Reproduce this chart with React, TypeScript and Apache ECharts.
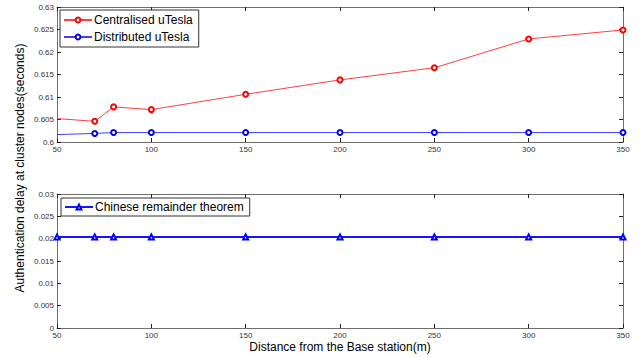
import React, { useEffect, useRef } from "react";
import * as echarts from "echarts";

const distances = [50, 70, 80, 100, 150, 200, 250, 300, 350];
const centralised = [0.6052, 0.6046, 0.6078, 0.6072, 0.6106, 0.6138, 0.6165, 0.6229, 0.6249];
const distributed = [0.60165, 0.6019, 0.6021, 0.6021, 0.6021, 0.6021, 0.6021, 0.6021, 0.6021];
const crt = [0.0204, 0.0204, 0.0204, 0.0204, 0.0204, 0.0204, 0.0204, 0.0204, 0.0204];

const FONT = "Liberation Sans, Arial, sans-serif";
const AXIS_COLOR = "#6e6e6e";

function fmt(v: number) {
  return String(+v.toFixed(4));
}

export default function App() {
  const ref = useRef<HTMLDivElement>(null);
  useEffect(() => {
    if (!ref.current) return;
    const chart = echarts.init(ref.current, null, { renderer: "svg" });
    const grids = [
      { left: 57, top: 7, width: 566, height: 135 },
      { left: 57, top: 194, width: 566, height: 134 },
    ];
    const xBase = (gridIndex: number, mirror: boolean) => ({
      type: "value",
      gridIndex,
      position: mirror ? "top" : "bottom",
      min: 50,
      max: 350,
      interval: 50,
      axisLine: { show: true, onZero: false, lineStyle: { color: AXIS_COLOR, width: 1 } },
      axisTick: { show: true, inside: true, length: 4, lineStyle: { color: "#222" } },
      axisLabel: {
        show: !mirror,
        fontSize: 8,
        color: "#333",
        fontFamily: FONT,
        margin: 3,
        showMinLabel: true,
        showMaxLabel: true,
      },
      splitLine: { show: false },
    });
    const yBase = (gridIndex: number, mirror: boolean, min: number, max: number, interval: number) => ({
      type: "value",
      gridIndex,
      position: mirror ? "right" : "left",
      min,
      max,
      interval,
      axisLine: { show: true, onZero: false, lineStyle: { color: AXIS_COLOR, width: 1 } },
      axisTick: { show: true, inside: true, length: 4, lineStyle: { color: "#222" } },
      axisLabel: {
        show: !mirror,
        fontSize: 8,
        color: "#333",
        fontFamily: FONT,
        margin: 3,
        formatter: (v: number) => fmt(v),
      },
      splitLine: { show: false },
    });
    const pairs = (ys: number[]) => distances.map((d, i) => [d, ys[i]]);
    const withFirstHidden = (ys: number[]) =>
      distances.map((d, i) => (i === 0 ? { value: [d, ys[i]], symbol: "none" } : [d, ys[i]]));

    const legendText = { fontSize: 12, color: "#000", fontFamily: FONT, padding: [0, 0, 0, -3] };

    chart.setOption({
      animation: false,
      backgroundColor: "#ffffff",
      grid: grids,
      xAxis: [xBase(0, false), xBase(0, true), xBase(1, false), xBase(1, true)],
      yAxis: [
        yBase(0, false, 0.6, 0.63, 0.005),
        yBase(0, true, 0.6, 0.63, 0.005),
        yBase(1, false, 0, 0.03, 0.005),
        yBase(1, true, 0, 0.03, 0.005),
      ],
      legend: [
        {
          data: ["Centralised uTesla", "Distributed uTesla"],
          orient: "vertical",
          left: 60,
          top: 10,
          padding: [4, 6, 4, 3],
          itemGap: 5,
          itemWidth: 28,
          itemHeight: 6,
          borderColor: "#333",
          borderWidth: 1,
          backgroundColor: "#fff",
          textStyle: legendText,
        },
        {
          data: ["Chinese remainder theorem"],
          orient: "vertical",
          left: 61,
          top: 198,
          padding: [3, 6, 3, 3],
          itemWidth: 28,
          itemHeight: 6,
          borderColor: "#333",
          borderWidth: 1,
          backgroundColor: "#fff",
          textStyle: legendText,
        },
      ],
      series: [
        {
          name: "Centralised uTesla",
          type: "line",
          xAxisIndex: 0,
          yAxisIndex: 0,
          data: withFirstHidden(centralised),
          symbol: "emptyCircle",
          symbolSize: 5,
          color: "#ff0000",
          lineStyle: { width: 1, color: "#ff4040" },
          itemStyle: { color: "#ff0000", borderColor: "#ff3030", borderWidth: 1 },
        },
        {
          name: "Distributed uTesla",
          type: "line",
          xAxisIndex: 0,
          yAxisIndex: 0,
          data: withFirstHidden(distributed),
          symbol: "emptyCircle",
          symbolSize: 5,
          color: "#0000ff",
          lineStyle: { width: 1, color: "#4040ff" },
          itemStyle: { color: "#0000ff", borderColor: "#3030ff", borderWidth: 1 },
        },
        {
          name: "Chinese remainder theorem",
          type: "line",
          xAxisIndex: 2,
          yAxisIndex: 2,
          data: pairs(crt),
          symbol: "emptyTriangle",
          symbolSize: 5,
          color: "#0000ff",
          lineStyle: { width: 2, color: "#1515ff" },
          itemStyle: { color: "#0000ff", borderColor: "#0000ff", borderWidth: 1.5 },
        },
      ],
      graphic: [
        {
          type: "text",
          x: 20,
          y: 168,
          rotation: Math.PI / 2,
          style: {
            text: "Authentication delay at cluster nodes(seconds)",
            fontSize: 12,
            fontFamily: FONT,
            fill: "#000",
            align: "center",
            verticalAlign: "middle",
          },
        },
        {
          type: "text",
          x: 340,
          y: 347,
          style: {
            text: "Distance from the Base station(m)",
            fontSize: 12,
            fontFamily: FONT,
            fill: "#000",
            align: "center",
            verticalAlign: "middle",
          },
        },
      ],
    });
    return () => chart.dispose();
  }, []);
  return (
    <div
      ref={ref}
      style={{ position: "absolute", left: 0, top: 0, width: 641, height: 358, background: "#fff" }}
    />
  );
}
